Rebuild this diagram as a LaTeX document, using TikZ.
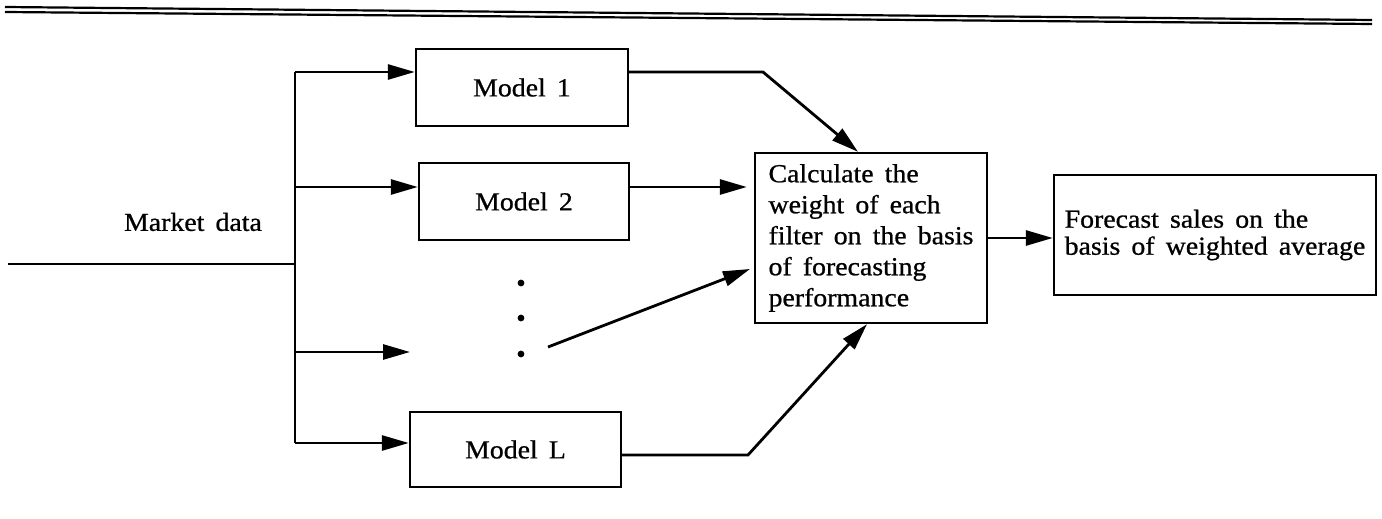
\documentclass[tikz,border=0pt]{standalone}
\usepackage{fontspec}
\setmainfont{Liberation Serif}[FakeStretch=1.07,WordSpace=1.6,FakeBold=0.8]
\usetikzlibrary{arrows.meta}
\begin{document}
\begin{tikzpicture}[x=0.5pt,y=-0.5pt,
  txt/.style={font=\fontsize{13}{15.5}\selectfont},
  box/.style={draw, line width=1.2pt, inner sep=0pt, txt},
  conn/.style={line width=1.4pt},
  arr/.style={conn, -{Triangle[length=13.5pt,width=7.5pt]}},
  rule/.style={line width=1.1pt},
  dot/.style={circle, fill, inner sep=0pt, minimum size=3.4pt}
  ]
\useasboundingbox (0,0) rectangle (1382,519);
% top double rule
\draw[rule] (5,7) -- (1372,20);
\draw[rule] (5,12) -- (1372,24);

% nodes
\node[box, minimum width=106pt, minimum height=38.5pt] (m1) at (522,87.5) {Model 1};
\node[box, minimum width=105pt, minimum height=38.5pt] (m2) at (524,201.5) {Model 2};
\node[box, minimum width=105.5pt, minimum height=37.5pt] (mL) at (515.5,449.5) {Model L};
\node[box, align=left, minimum width=116pt, minimum height=85pt] (calc) at (871,238)
  {Calculate the\\weight of each\\filter on the basis\\of forecasting\\performance};
\node[box, align=left, minimum width=161pt, minimum height=60pt,
  font=\fontsize{13}{13.5}\selectfont] (fc) at (1215,235)
  {Forecast sales on the\\basis of weighted average};
\node[txt] (md) at (193,222) {Market data};

\node[dot] (d1) at (521,283) {};
\node[dot] (d2) at (521,318) {};
\node[dot] (d3) at (521,354) {};

% helper coordinates
\coordinate (in) at (8,264);
\coordinate (j) at (295,264);
\coordinate (b1) at (295,72);
\coordinate (b2) at (295,187);
\coordinate (b3) at (295,352);
\coordinate (b4) at (295,443);
\coordinate (t3) at (410,352);
\coordinate (k1) at (763,72);
\coordinate (k4) at (748,455);
\coordinate (d0) at (548,347);
\coordinate (e3) at (750,269);
\coordinate (x858) at (858,0);
\coordinate (x867) at (867,0);

% connectors
\draw[conn] (in) -- (j);
\draw[conn] (b1) -- (b4);
\draw[arr] (b1) -- (b1 -| m1.west);
\draw[arr] (b2) -- (b2 -| m2.west);
\draw[arr] (b3) -- (t3);
\draw[arr] (b4) -- (b4 -| mL.west);

\draw[arr] (m1.east |- k1) -- (k1) -- (calc.north -| x858);
\draw[arr, shorten >=3.5pt] (m2.east |- b2) -- (calc.west |- b2);
\draw[arr] (d0) -- (e3);
\draw[arr] (mL.east |- k4) -- (k4) -- (calc.south -| x867);
\draw[arr] (calc.east) -- (fc.west |- calc.east);
\end{tikzpicture}
\end{document}
